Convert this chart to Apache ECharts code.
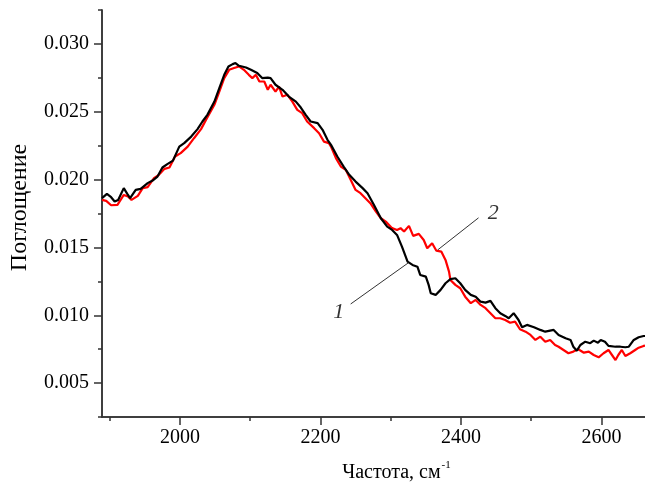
<!DOCTYPE html>
<html>
<head>
<meta charset="utf-8">
<script src="https://cdn.jsdelivr.net/npm/echarts@6/dist/echarts.min.js"></script>
<style>
html,body{margin:0;padding:0;background:#fff;}
#chart{width:645px;height:492px;}
</style>
</head>
<body>
<div id="chart"></div>
<script>
// Curve 1 (black)
const freqBlack = [1889,1896,1902,1907,1912,1920,1925,1929,1937,1944,1954,1961,1968,1975,1982,1990,1999,2006,2016,2025,2032,2039,2049,2056,2063,2069,2075,2079,2084,2094,2101,2110,2117,2125,2129,2136,2146,2155,2165,2172,2179,2186,2196,2203,2210,2215,2224,2233,2241,2250,2260,2267,2276,2286,2295,2302,2309,2316,2324,2331,2338,2342,2350,2354,2357,2364,2371,2378,2385,2392,2399,2406,2414,2421,2428,2435,2442,2449,2456,2463,2468,2475,2482,2487,2494,2504,2513,2520,2532,2539,2549,2556,2560,2565,2570,2577,2584,2589,2595,2599,2605,2610,2620,2627,2634,2639,2646,2653,2660,2662];
const absBlack = [0.01863,0.01895,0.01870,0.01838,0.01850,0.01937,0.01895,0.01863,0.01924,0.01932,0.01974,0.01993,0.02022,0.02089,0.02114,0.02140,0.02243,0.02269,0.02317,0.02372,0.02428,0.02477,0.02575,0.02674,0.02772,0.02834,0.02851,0.02859,0.02839,0.02826,0.02809,0.02785,0.02748,0.02752,0.02748,0.02699,0.02662,0.02612,0.02575,0.02531,0.02477,0.02428,0.02416,0.02367,0.02293,0.02256,0.02170,0.02096,0.02035,0.01985,0.01937,0.01900,0.01814,0.01715,0.01653,0.01629,0.01592,0.01506,0.01395,0.01371,0.01358,0.01297,0.01285,0.01224,0.01162,0.01150,0.01187,0.01236,0.01266,0.01273,0.01236,0.01187,0.01150,0.01137,0.01100,0.01093,0.01106,0.01052,0.01015,0.00995,0.00978,0.01015,0.00965,0.00912,0.00929,0.00912,0.00892,0.00879,0.00892,0.00855,0.00830,0.00818,0.00768,0.00739,0.00781,0.00805,0.00794,0.00813,0.00798,0.00818,0.00805,0.00774,0.00768,0.00768,0.00764,0.00768,0.00818,0.00838,0.00847,0.00847];
// Curve 2 (red)
const freqRed = [1889,1895,1902,1911,1920,1926,1931,1940,1947,1954,1963,1970,1978,1985,1993,2001,2011,2020,2030,2037,2049,2056,2063,2070,2077,2084,2091,2098,2103,2108,2113,2120,2125,2129,2136,2141,2146,2153,2160,2167,2174,2181,2191,2198,2205,2212,2215,2222,2229,2236,2243,2250,2257,2264,2271,2279,2286,2293,2302,2309,2314,2319,2326,2332,2340,2347,2352,2359,2365,2372,2378,2383,2385,2392,2399,2406,2414,2421,2428,2435,2442,2449,2456,2463,2470,2477,2484,2492,2499,2506,2513,2520,2527,2534,2539,2546,2553,2560,2567,2575,2582,2589,2596,2603,2610,2615,2620,2624,2629,2634,2641,2648,2653,2660,2662];
const absRed = [0.01850,0.01843,0.01811,0.01814,0.01887,0.01875,0.01850,0.01880,0.01937,0.01944,0.02010,0.02035,0.02079,0.02089,0.02170,0.02195,0.02243,0.02305,0.02372,0.02440,0.02551,0.02649,0.02748,0.02809,0.02822,0.02834,0.02809,0.02772,0.02748,0.02772,0.02723,0.02723,0.02662,0.02699,0.02649,0.02686,0.02612,0.02625,0.02575,0.02514,0.02490,0.02428,0.02379,0.02342,0.02280,0.02269,0.02243,0.02158,0.02096,0.02072,0.01998,0.01924,0.01900,0.01863,0.01826,0.01764,0.01715,0.01690,0.01642,0.01629,0.01642,0.01617,0.01659,0.01585,0.01600,0.01555,0.01494,0.01531,0.01476,0.01469,0.01408,0.01322,0.01260,0.01224,0.01199,0.01137,0.01089,0.01113,0.01076,0.01052,0.01015,0.00978,0.00978,0.00965,0.00945,0.00953,0.00897,0.00879,0.00855,0.00818,0.00842,0.00805,0.00818,0.00781,0.00768,0.00744,0.00720,0.00732,0.00749,0.00724,0.00732,0.00707,0.00690,0.00720,0.00744,0.00707,0.00670,0.00707,0.00744,0.00700,0.00720,0.00744,0.00761,0.00774,0.00777];

// Tick labels
const xMajorTicks = [2000, 2200, 2400, 2600];
const xMinorTicks = [1900, 2000, 2100, 2200, 2300, 2400, 2500, 2600];
const yMajorTicks = [0.005, 0.010, 0.015, 0.020, 0.025, 0.030];
const yMinorTicks = [0.0025, 0.005, 0.0075, 0.010, 0.0125, 0.015, 0.0175, 0.020, 0.0225, 0.025, 0.0275, 0.030, 0.0325];

// Annotation: labels and leader lines (data coordinates)
const annotLabels = ['1', '2'];
const annotLabelPos = [[2226, 0.01024], [2446, 0.01754]];
const annotLines = [[[2243, 0.01083], [2325, 0.01386]], [[2425, 0.01718], [2367, 0.01482]]];

const X_MIN = 1889, X_MAX = 2662, Y_MIN = 0.0025, Y_MAX = 0.0325;
const FONT = '"Liberation Serif", "Times New Roman", serif';
const AX = '#333';

const chart = echarts.init(document.getElementById('chart'), null, {renderer: 'canvas'});

const pair = (xs, ys) => xs.slice(0, Math.min(xs.length, ys.length)).map((x, i) => [x, ys[i]]);

const baseX = {
  type: 'value', min: X_MIN, max: X_MAX, position: 'bottom',
  splitLine: {show: false}, axisLine: {show: true, onZero: false, lineStyle: {color: AX, width: 1.5}}
};
const baseY = {
  type: 'value', min: Y_MIN, max: Y_MAX, position: 'left',
  splitLine: {show: false}, axisLine: {show: true, onZero: false, lineStyle: {color: AX, width: 1.5}}
};

chart.setOption({
  animation: false,
  backgroundColor: '#fff',
  grid: {left: 98, right: 0, top: 10, bottom: 75, containLabel: false},
  xAxis: [
    Object.assign({}, baseX, {
      axisTick: {show: true, length: 4, customValues: xMinorTicks, lineStyle: {color: AX, width: 1.5}},
      axisLabel: {show: false}
    }),
    Object.assign({}, baseX, {
      name: '{a|Частота, см}{s|-1}',
      nameLocation: 'middle', nameGap: 43,
      nameTextStyle: {
        padding: [0, 0, 0, 46],
        rich: {
          a: {fontFamily: FONT, fontSize: 20, color: '#000', verticalAlign: 'bottom'},
          s: {fontFamily: FONT, fontSize: 11, color: '#000', verticalAlign: 'top', padding: [0, 0, 12, 1]}
        }
      },
      axisTick: {show: true, length: 8, customValues: xMajorTicks, lineStyle: {color: AX, width: 1.5}},
      axisLabel: {show: true, customValues: xMajorTicks, margin: 11, fontFamily: FONT, fontSize: 20, color: '#000',
        formatter: v => String(Math.round(v))}
    })
  ],
  yAxis: [
    Object.assign({}, baseY, {
      axisTick: {show: true, length: 4, customValues: yMinorTicks, lineStyle: {color: AX, width: 1.5}},
      axisLabel: {show: false}
    }),
    Object.assign({}, baseY, {
      name: 'Поглощение',
      nameLocation: 'middle', nameGap: 70, nameRotate: 90,
      nameTextStyle: {fontFamily: FONT, fontSize: 24, color: '#000', padding: [0, 0, 0, 12]},
      axisTick: {show: true, length: 8, customValues: yMajorTicks, lineStyle: {color: AX, width: 1.5}},
      axisLabel: {show: true, customValues: yMajorTicks, margin: 13, fontFamily: FONT, fontSize: 20, color: '#000',
        formatter: v => v.toFixed(3)}
    })
  ],
  series: [
    {
      name: '1', type: 'line', xAxisIndex: 0, yAxisIndex: 0,
      data: pair(freqBlack, absBlack), showSymbol: false, symbol: 'none',
      lineStyle: {color: '#000', width: 2.2}, z: 3,
      markLine: {
        silent: true, symbol: ['none', 'none'], animation: false,
        lineStyle: {color: '#333', width: 1, type: 'solid'}, label: {show: false},
        data: annotLines.map(l => [{coord: l[0]}, {coord: l[1]}])
      },
      markPoint: {
        silent: true, symbol: 'circle', symbolSize: 1, itemStyle: {color: 'rgba(0,0,0,0)'},
        data: annotLabels.map((t, i) => ({coord: annotLabelPos[i], value: t})),
        label: {show: true, position: 'inside', formatter: p => p.value, fontFamily: FONT, fontStyle: 'italic',
          fontSize: 22, color: '#333'}
      }
    },
    {
      name: '2', type: 'line', xAxisIndex: 0, yAxisIndex: 0,
      data: pair(freqRed, absRed), showSymbol: false, symbol: 'none',
      lineStyle: {color: '#ff0000', width: 2.2}, z: 2
    }
  ]
});
</script>
</body>
</html>
